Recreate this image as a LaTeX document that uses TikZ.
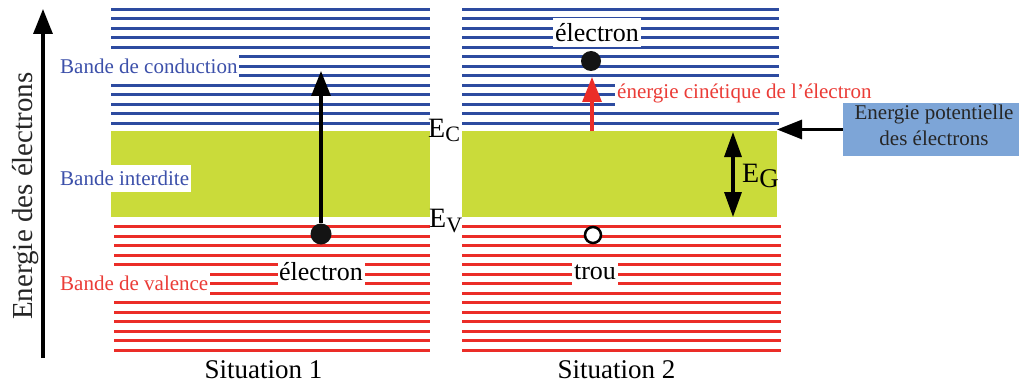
\documentclass[tikz,border=0pt]{standalone}
\usepackage{fontspec}
\setmainfont{Liberation Serif}
\usetikzlibrary{arrows.meta}
\definecolor{bandblue}{RGB}{45,75,160}
\definecolor{txtblue}{RGB}{60,80,170}
\definecolor{bandred}{RGB}{235,45,40}
\definecolor{txtred}{RGB}{235,60,55}
\definecolor{gapgreen}{RGB}{202,219,58}
\definecolor{boxblue}{RGB}{125,165,215}
\begin{document}
\begin{tikzpicture}[x=1pt,y=-1pt,
  level/.style={line width=2.6pt},
  lab/.style={fill=white, inner sep=2pt, font=\fontsize{21}{25}\selectfont},
  elab/.style={fill=white, inner sep=0pt, font=\fontsize{26}{30}\selectfont},
  arr/.style={line width=3.2pt, -{Triangle[width=19pt,length=25pt]}},
  dbl/.style={line width=3.2pt, {Triangle[width=17pt,length=25pt]}-{Triangle[width=17pt,length=25pt]}},
  big/.style={inner sep=0pt, font=\fontsize{28}{28}\selectfont},
  sit/.style={inner sep=0pt, anchor=base, font=\fontsize{27}{30}\selectfont}]
\useasboundingbox (0,0) rectangle (1019,385);
% gap regions
\fill[gapgreen] (111,131) rectangle (430,216.7);
\fill[gapgreen] (462,131) rectangle (777,216.7);
% conduction levels
\foreach \k in {0,...,12}{
  \draw[level,bandblue] (111,{9.3+9.5*\k}) -- (430,{9.3+9.5*\k});
  \draw[level,bandblue] (462,{9.3+9.5*\k}) -- (779,{9.3+9.5*\k});
}
% valence levels
\foreach \k in {0,...,13}{
  \draw[level,bandred] (114,{226.7+9.5*\k}) -- (430,{226.7+9.5*\k});
  \draw[level,bandred] (462,{226.7+9.5*\k}) -- (781,{226.7+9.5*\k});
}
% band labels
\node[lab, text=txtblue, anchor=west, minimum height=25pt] (lcond) at (58,66.5) {Bande de conduction};
\node[lab, text=txtblue, anchor=west, minimum height=27pt] (linter) at (58,178.5) {Bande interdite};
\node[lab, text=txtred, anchor=west, minimum height=28pt] (lval) at (58,283.5) {Bande de valence};
% situation 1
\node[elab, minimum width=87pt, minimum height=30pt] (e1) at (321,272) {électron};
\node[circle, fill=black!92, inner sep=0pt, minimum size=21pt] (d1) at (321,234) {};
\coordinate (t1) at (321,71);
\draw[arr] (d1.north) -- (t1);
% situation 2
\node[elab, minimum width=88pt, minimum height=29pt] (e2) at (597,32.5) {électron};
\node[circle, fill=black!92, inner sep=0pt, minimum size=20pt] (d2) at (591,61) {};
\node[lab, text=txtred, anchor=west, minimum height=27pt] (kin) at (615,93) {énergie cinétique de l’électron};
\coordinate (r0) at (592,131);
\coordinate (r1) at (592,77);
\draw[arr, bandred] (r0) -- (r1);
\node[circle, draw=black, line width=2.5pt, fill=white, inner sep=0pt, minimum size=16pt] (hole) at (593,235) {};
\node[elab, minimum width=46pt, minimum height=30pt] (trou) at (595,272) {trou};
% gap arrow
\coordinate (g0) at (733,132);
\coordinate (g1) at (733,217);
\draw[dbl] (g0) -- (g1);
% energy labels
\node[big, anchor=base west] (ec) at (428,137) {E\raisebox{-5pt}{\fontsize{22}{22}\selectfont C}};
\node[big, anchor=base west] (ev) at (429,227) {E\raisebox{-5pt}{\fontsize{22}{22}\selectfont V}};
\node[big, anchor=base west] (eg) at (742,182) {E\raisebox{-5pt}{\fontsize{27}{27}\selectfont G}};
% potential energy box
\node[fill=boxblue, inner sep=0pt, minimum width=176pt, minimum height=53pt] (pot) at (931,129.5) {};
\node[inner sep=0pt, align=center, text=black!85, font=\fontsize{21}{25.7}\selectfont] (pottxt) at (934,125.5) {Energie potentielle\\des électrons};
\coordinate (pe) at (777,129.5);
\draw[arr] (pot.west) -- (pe);
% axis
\coordinate (a0) at (43,358);
\coordinate (a1) at (43,9);
\draw[arr] (a0) -- (a1);
\node[inner sep=0pt, anchor=base, rotate=90, text=black!85, font=\fontsize{29}{30}\selectfont] (axl) at (32,196) {Energie des électrons};
% situations
\node[sit] (s1) at (263.5,378) {Situation 1};
\node[sit] (s2) at (616.5,378) {Situation 2};
\end{tikzpicture}
\end{document}
